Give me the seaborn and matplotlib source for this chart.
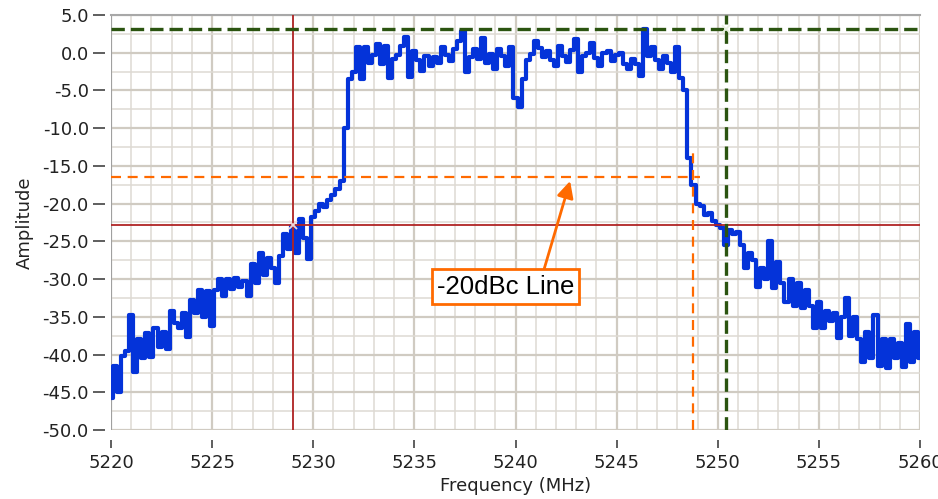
import numpy as np
import pandas as pd
import matplotlib
matplotlib.use("Agg")
import matplotlib.pyplot as plt
import seaborn as sns

# spectrum trace, one row per MHz (0.2 MHz steps)
amplitude = [
    -45.8, -41.5, -45.0, -40.2, -39.5,   # 5220
    -34.8, -42.3, -38.0, -40.5, -37.2,   # 5221
    -40.3, -36.5, -39.0, -37.0, -39.2,   # 5222
    -34.2, -35.8, -36.5, -34.5, -37.7,   # 5223
    -32.8, -34.5, -31.5, -35.0, -31.6,   # 5224
    -36.2, -31.5, -30.0, -32.2, -30.0,   # 5225
    -31.3, -29.8, -31.0, -30.2, -32.3,   # 5226
    -28.0, -30.5, -26.6, -29.5, -27.2,   # 5227
    -28.5, -30.5, -27.0, -24.0, -26.0,   # 5228
    -23.0, -26.5, -22.0, -24.5, -27.3,   # 5229
    -21.8, -21.0, -20.0, -20.5, -19.5,   # 5230
    -18.8, -18.0, -17.0, -10.0, -3.5,    # 5231
    -2.5, 0.8, -3.5, 0.8, -1.3,          # 5232
    -0.3, 1.1, -1.5, 0.9, -3.4,          # 5233
    -0.8, -0.3, 0.9, 2.1, -3.2,          # 5234
    0.2, -1.0, -2.4, -0.4, -1.8,         # 5235
    -0.6, -1.3, 0.8, -0.3, -1.1,         # 5236
    0.5, 1.5, 2.9, -2.6, -0.6,           # 5237
    0.5, -0.8, 2.0, -1.4, -0.2,          # 5238
    -2.2, 0.5, -0.4, -1.8, 0.7,          # 5239
    -6.0, -7.2, -3.5, -1.0, -0.2,        # 5240
    1.5, 0.6, -0.6, 0.2, -0.9,           # 5241
    -1.8, 0.9, -0.4, -1.2, 0.3,          # 5242
    1.8, -2.6, -0.5, 0.0, 1.3,           # 5243
    -0.7, -1.8, 0.0, 0.2, -1.1,          # 5244
    -0.3, 0.0, -1.5, -2.2, -0.8,         # 5245
    -1.5, -3.1, 3.1, -0.5, 0.8,          # 5246
    -1.0, -2.2, -0.5, -1.3, -2.6,        # 5247
    0.7, -3.3, -5.0, -14.0, -17.5,       # 5248
    -20.0, -20.3, -21.5, -21.2, -22.3,   # 5249
    -22.8, -23.2, -25.5, -23.5, -24.0,   # 5250
    -23.8, -25.5, -28.5, -26.5, -27.5,   # 5251
    -31.0, -28.5, -30.0, -25.0, -31.2,   # 5252
    -27.8, -30.5, -33.0, -30.0, -33.5,   # 5253
    -30.5, -33.8, -31.5, -33.6, -36.5,   # 5254
    -33.0, -36.5, -34.2, -35.5, -34.5,   # 5255
    -37.8, -35.0, -32.5, -37.5, -35.0,   # 5256
    -38.0, -41.0, -37.0, -40.5, -34.8,   # 5257
    -41.5, -38.0, -41.8, -38.0, -40.5,   # 5258
    -38.5, -41.6, -36.0, -41.0, -37.0,   # 5259
    -40.5,                               # 5260
]
freq_start, freq_stop = 5220, 5260
frequency = np.linspace(freq_start, freq_stop, len(amplitude))

# cursors
red_cursor = (5229.0, -22.8)
green_cursor = (5250.4, 3.1)
dbc_level = -16.5
dbc_edge = 5248.8
dbc_line_end = 5249.1
dbc_edge_top = -13.2

x_ticks = [5220, 5225, 5230, 5235, 5240, 5245, 5250, 5255, 5260]
y_ticks = [5.0, 0.0, -5.0, -10.0, -15.0, -20.0, -25.0, -30.0, -35.0, -40.0, -45.0, -50.0]

df = pd.DataFrame({"Frequency (MHz)": frequency, "Amplitude": amplitude})

sns.set_theme(style="white")
plt.rcParams["font.family"] = ["DejaVu Sans"]

fig = plt.figure(figsize=(9.38, 4.99), dpi=100)
ax = fig.add_axes([111 / 938, 1 - 430 / 499, (920 - 111) / 938, (430 - 15) / 499])

# grid
ax.set_xticks(np.arange(5220, 5261, 1), minor=True)
ax.set_yticks(np.arange(-50, 5.1, 2.5), minor=True)
ax.grid(which="minor", color="#dedad3", lw=1.1)
ax.grid(which="major", color="#d0cbc2", lw=1.6)
ax.set_axisbelow(True)

sns.lineplot(data=df, x="Frequency (MHz)", y="Amplitude", ax=ax, color="#0433d9",
             lw=3.0, drawstyle="steps-mid", zorder=3)

# red cursor
ax.axvline(red_cursor[0], color="#b02424", lw=1.3, zorder=4)
ax.axhline(red_cursor[1], color="#b02424", lw=1.3, zorder=4)
ax.plot(*red_cursor, marker="x", ms=6, mew=1.3, color="#f0d8d8", zorder=6)

# green cursor
ax.axvline(green_cursor[0], color="#2b5410", lw=2.4, ls=(0, (4, 1.8)), zorder=5)
ax.axhline(green_cursor[1], color="#2b5410", lw=2.4, ls=(0, (4, 1.8)), zorder=5)
ax.plot(*green_cursor, marker="x", ms=6, mew=1.3, color="#e8f0e0", zorder=6)

# -20 dBc markers
ax.plot([freq_start, dbc_line_end], [dbc_level, dbc_level], color="#ff6a00", lw=1.6,
        ls=(0, (4.5, 3)), zorder=4)
ax.plot([dbc_edge, dbc_edge], [-50, dbc_edge_top], color="#ff6a00", lw=1.6,
        ls=(0, (4.5, 3)), zorder=4)

ax.annotate("-20dBc Line", xy=(5242.7, -17.0), xytext=(5239.5, -31.0),
            ha="center", va="center", fontsize=18.5, family=["Liberation Sans"],
            color="black", zorder=7,
            bbox=dict(boxstyle="square,pad=0.2", fc="white", ec="#ff6a00", lw=2),
            arrowprops=dict(arrowstyle="-|>", color="#ff6a00", lw=2, mutation_scale=25,
                            shrinkA=0, shrinkB=0, relpos=(0.77, 1.0)))

ax.set_xlim(freq_start, freq_stop)
ax.set_ylim(-50, 5)
ax.set_xticks(x_ticks)
ax.set_yticks(y_ticks)
ax.set_xticklabels([str(t) for t in x_ticks])
ax.set_yticklabels([f"{t:.1f}" for t in y_ticks])

ax.spines["left"].set_position(("outward", 4))
ax.spines["left"].set_visible(False)
ax.spines["bottom"].set_position(("outward", 7))
ax.spines["bottom"].set_visible(False)
ax.spines["right"].set_visible(False)
ax.spines["top"].set_color("#a8a8a8")
ax.spines["top"].set_linewidth(1.5)
ax.axvline(freq_start, color="#a0a0a0", lw=1.5, zorder=2)

ax.tick_params(axis="y", which="major", left=True, direction="out", length=9, width=1.1,
               color="#333333", pad=3, labelsize=13, labelcolor="#222222")
ax.tick_params(axis="x", which="major", bottom=True, direction="out", length=6, width=1.1,
               color="#333333", pad=4, labelsize=13, labelcolor="#222222")
ax.tick_params(which="minor", left=False, bottom=False)

ax.set_xlabel("Frequency (MHz)", fontsize=13, color="#222222", labelpad=4)
ax.set_ylabel("Amplitude", fontsize=13, color="#222222", labelpad=6)

fig.savefig("out.png", dpi=100)
